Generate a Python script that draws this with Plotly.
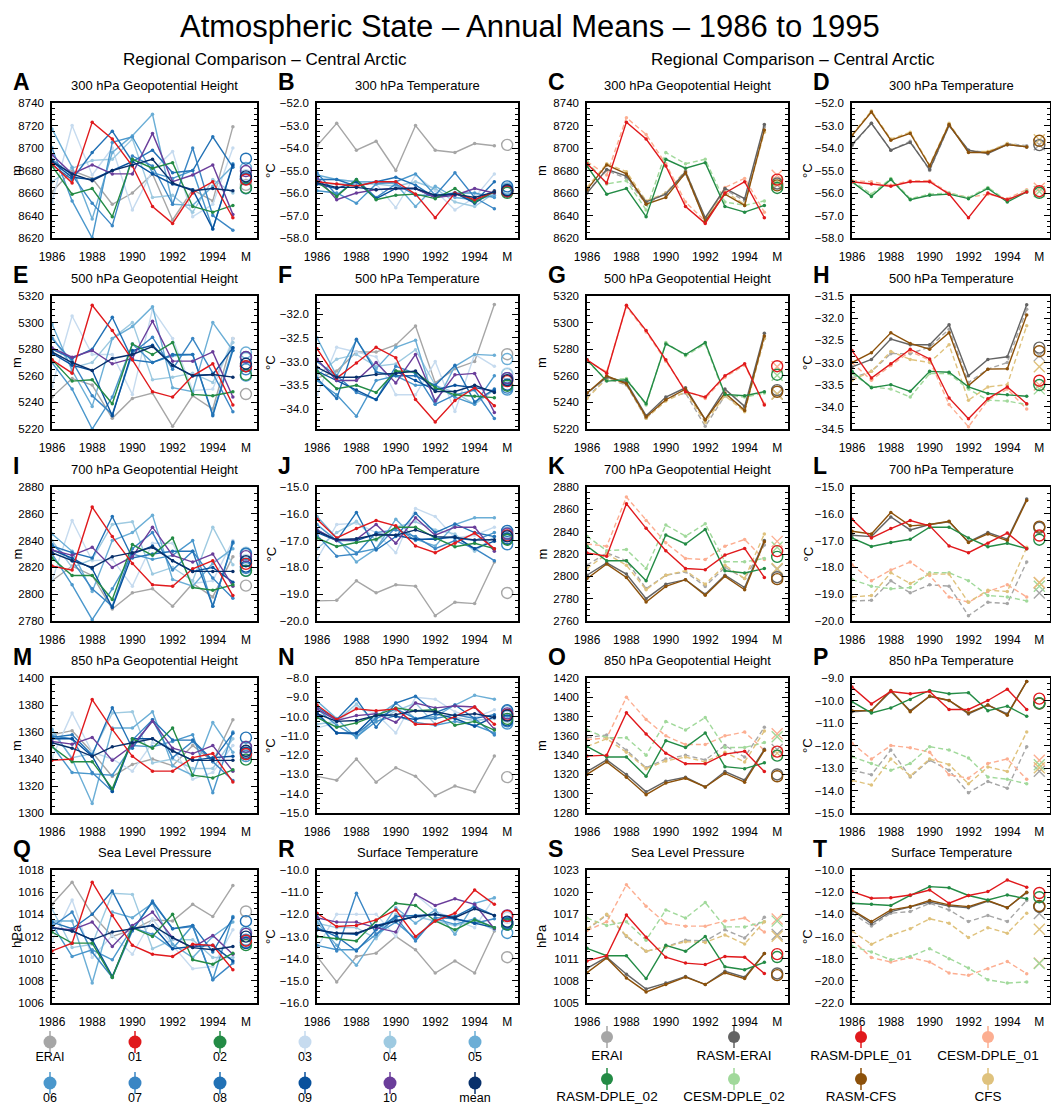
import numpy as np
import plotly.graph_objects as go

W, H = 1059, 1106
OFF = 8  # the page body margin shifts the figure by this many pixels
years = list(range(1986, 1996))
x_m = 1995.65

ens_names = ["ERAI", "01", "02", "03", "04", "05", "06", "07", "08", "09", "10", "mean"]
ens_colors = ["#a6a6a6", "#e0191c", "#238b45", "#c6dbef", "#9ecae1", "#6baed6",
              "#4a97cc", "#3a86c4", "#2171b5", "#08519c", "#6a3d9a", "#08306b"]
ens_order = [0, 3, 4, 5, 6, 7, 8, 9, 10, 2, 1, 11]

run_names = ["ERAI", "RASM-ERAI", "RASM-DPLE_01", "CESM-DPLE_01",
             "RASM-DPLE_02", "CESM-DPLE_02", "RASM-CFS", "CFS"]
run_colors = ["#a6a6a6", "#636363", "#e0191c", "#fcae91", "#238b45", "#a1d99b", "#8c510a", "#dfc27d"]
run_dash = ["dash", "solid", "solid", "dash", "solid", "dash", "solid", "dash"]
run_order = [0, 3, 5, 7, 1, 6, 4, 2]

# ---- ensemble panels: rows = ERAI, 01 .. 10, mean ----
gph300_ens = [
    [8661, 8680, 8673, 8650, 8660, 8677, 8636, 8663, 8653, 8719],
    [8686, 8669, 8723, 8708, 8684, 8648, 8633, 8660, 8670, 8638],
    [8684, 8659, 8664, 8639, 8690, 8682, 8687, 8648, 8643, 8649],
    [8652, 8720, 8676, 8700, 8645, 8680, 8697, 8639, 8650, 8700],
    [8670, 8682, 8689, 8690, 8708, 8656, 8658, 8643, 8672, 8660],
    [8717, 8683, 8637, 8696, 8711, 8730, 8650, 8649, 8666, 8684],
    [8700, 8653, 8620, 8705, 8710, 8678, 8673, 8680, 8628, 8686],
    [8690, 8676, 8651, 8631, 8693, 8684, 8650, 8700, 8640, 8627],
    [8685, 8672, 8696, 8715, 8688, 8698, 8678, 8680, 8710, 8683],
    [8688, 8674, 8672, 8680, 8688, 8677, 8668, 8663, 8628, 8685],
    [8694, 8677, 8685, 8677, 8677, 8713, 8670, 8676, 8685, 8641],
    [8688, 8677, 8671, 8680, 8685, 8690, 8669, 8662, 8664, 8662],
]
t300_ens = [
    [-53.9, -52.9, -54.1, -53.7, -55.0, -53.0, -54.1, -54.2, -53.8, -53.9],
    [-55.5, -55.6, -55.7, -55.5, -55.5, -56.05, -57.1, -56.0, -56.3, -55.95],
    [-55.5, -56.15, -55.4, -56.3, -56.1, -56.05, -56.25, -55.8, -56.4, -55.95],
    [-55.4, -55.4, -55.5, -55.6, -56.65, -55.2, -55.9, -56.75, -56.2, -55.15],
    [-55.6, -55.6, -55.6, -55.6, -55.7, -55.5, -55.8, -56.4, -56.6, -56.0],
    [-55.2, -55.4, -55.5, -55.5, -55.6, -56.6, -55.7, -56.2, -56.3, -56.1],
    [-55.9, -56.0, -56.45, -55.6, -55.5, -55.15, -56.1, -56.0, -56.0, -56.2],
    [-55.1, -56.1, -55.4, -56.2, -55.6, -56.1, -56.1, -55.1, -56.2, -56.7],
    [-55.4, -55.4, -55.7, -55.5, -55.3, -55.65, -56.2, -56.0, -56.4, -55.5],
    [-55.6, -55.8, -55.5, -56.25, -55.8, -55.8, -56.2, -56.0, -56.45, -55.9],
    [-55.3, -56.3, -56.0, -55.85, -55.8, -55.8, -56.2, -56.1, -55.8, -56.0],
    [-55.55, -55.75, -55.75, -55.85, -55.8, -55.8, -56.1, -56.05, -56.2, -55.95],
]
gph500_ens = [
    [5244, 5258, 5253, 5228, 5243, 5247, 5222, 5245, 5235, 5288],
    [5272, 5262, 5313, 5294, 5272, 5248, 5244, 5260, 5269, 5238],
    [5272, 5256, 5257, 5239, 5284, 5276, 5285, 5246, 5245, 5248],
    [5252, 5305, 5276, 5276, 5246, 5310, 5288, 5249, 5250, 5288],
    [5290, 5266, 5270, 5288, 5300, 5257, 5259, 5262, 5255, 5285],
    [5299, 5264, 5237, 5288, 5297, 5312, 5251, 5248, 5300, 5279],
    [5270, 5250, 5220, 5244, 5284, 5270, 5275, 5276, 5231, 5281],
    [5288, 5271, 5245, 5231, 5277, 5289, 5265, 5288, 5262, 5233],
    [5280, 5273, 5280, 5304, 5272, 5270, 5276, 5276, 5230, 5279],
    [5277, 5268, 5264, 5230, 5279, 5283, 5268, 5260, 5261, 5281],
    [5281, 5274, 5279, 5269, 5273, 5301, 5271, 5271, 5278, 5244],
    [5278, 5270, 5264, 5273, 5276, 5282, 5268, 5260, 5261, 5259],
]
t500_ens = [
    [-33.35, -33.2, -32.8, -32.8, -32.65, -32.25, -33.45, -33.15, -33.0, -31.8],
    [-32.73, -33.35, -33.03, -32.7, -32.92, -33.8, -34.27, -33.82, -33.55, -33.93],
    [-33.2, -33.57, -33.5, -33.65, -33.2, -33.22, -33.55, -33.7, -33.73, -33.76],
    [-33.7, -32.7, -32.8, -32.9, -33.7, -33.7, -33.0, -34.05, -32.85, -33.1],
    [-33.3, -32.95, -32.85, -33.1, -33.05, -32.75, -33.5, -33.65, -33.9, -33.6],
    [-32.5, -33.3, -32.55, -33.15, -32.7, -32.55, -33.9, -33.1, -32.85, -32.87],
    [-33.4, -33.7, -34.15, -33.4, -33.3, -33.5, -33.5, -33.75, -33.9, -33.3],
    [-33.0, -33.3, -33.65, -33.8, -33.1, -33.25, -33.9, -33.7, -33.6, -34.2],
    [-33.35, -33.78, -32.53, -33.22, -33.3, -33.3, -33.5, -33.08, -33.85, -33.58],
    [-33.2, -33.4, -33.6, -33.8, -33.2, -33.4, -33.6, -33.5, -33.55, -33.62],
    [-32.95, -33.4, -33.4, -33.02, -33.45, -32.85, -33.83, -33.28, -33.25, -34.07],
    [-33.12, -33.33, -33.33, -33.27, -33.25, -33.2, -33.63, -33.63, -33.5, -33.65],
]
gph700_ens = [
    [2810, 2821, 2814, 2789, 2801, 2804, 2791, 2808, 2798, 2828],
    [2821, 2818, 2865, 2843, 2823, 2807, 2806, 2819, 2825, 2799],
    [2827, 2814, 2814, 2796, 2837, 2829, 2842, 2805, 2803, 2807],
    [2810, 2855, 2825, 2826, 2806, 2838, 2838, 2808, 2810, 2840],
    [2840, 2820, 2826, 2852, 2854, 2815, 2820, 2810, 2850, 2822],
    [2845, 2832, 2802, 2840, 2846, 2859, 2811, 2806, 2823, 2834],
    [2830, 2807, 2781, 2804, 2830, 2826, 2829, 2840, 2791, 2838],
    [2837, 2825, 2804, 2791, 2834, 2846, 2818, 2832, 2812, 2797],
    [2836, 2831, 2827, 2858, 2827, 2830, 2832, 2832, 2791, 2839],
    [2833, 2827, 2819, 2790, 2830, 2836, 2825, 2817, 2820, 2809],
    [2833, 2829, 2835, 2820, 2828, 2850, 2829, 2824, 2830, 2806],
    [2831, 2825, 2820, 2828, 2831, 2835, 2825, 2817, 2817, 2817],
]
t700_ens = [
    [-19.25, -19.23, -18.5, -18.95, -18.65, -18.7, -19.8, -19.3, -19.35, -17.8],
    [-16.2, -16.9, -16.55, -16.25, -16.45, -17.2, -17.45, -17.1, -16.72, -17.3],
    [-16.9, -17.22, -17.07, -16.95, -16.5, -16.5, -16.9, -17.23, -17.1, -17.3],
    [-17.7, -16.4, -16.35, -16.7, -17.45, -15.8, -16.1, -16.9, -16.8, -16.5],
    [-17.3, -16.7, -16.28, -17.0, -16.5, -16.3, -16.6, -16.75, -17.4, -16.85],
    [-16.1, -16.9, -17.8, -17.3, -16.2, -16.95, -17.2, -16.4, -16.15, -16.15],
    [-16.4, -17.0, -17.45, -17.3, -16.5, -17.0, -16.9, -16.9, -17.0, -16.7],
    [-16.8, -17.58, -17.5, -16.7, -16.6, -16.85, -17.3, -17.0, -17.3, -17.75],
    [-16.6, -17.0, -15.95, -17.35, -16.85, -15.98, -16.7, -16.38, -16.7, -16.85],
    [-16.7, -17.0, -17.0, -16.75, -16.8, -16.95, -16.95, -16.85, -17.3, -17.02],
    [-16.6, -17.0, -16.95, -16.4, -17.1, -16.15, -16.8, -16.5, -16.5, -17.4],
    [-16.65, -16.97, -16.93, -16.78, -16.8, -16.6, -16.85, -16.88, -16.98, -16.97],
]
gph850_ens = [
    [1358, 1361, 1345, 1327, 1336, 1340, 1335, 1350, 1338, 1369],
    [1339, 1340, 1384, 1362, 1342, 1331, 1331, 1341, 1344, 1323],
    [1349, 1338, 1338, 1318, 1355, 1348, 1363, 1328, 1326, 1332],
    [1341, 1374, 1345, 1340, 1331, 1352, 1348, 1325, 1330, 1350],
    [1360, 1341, 1344, 1374, 1375, 1337, 1340, 1333, 1333, 1355],
    [1362, 1340, 1307, 1363, 1363, 1375, 1335, 1328, 1367, 1345],
    [1350, 1330, 1329, 1328, 1350, 1349, 1353, 1358, 1315, 1360],
    [1357, 1355, 1330, 1316, 1354, 1369, 1341, 1353, 1338, 1324],
    [1356, 1358, 1343, 1378, 1348, 1369, 1354, 1354, 1339, 1359],
    [1355, 1355, 1342, 1316, 1355, 1355, 1346, 1339, 1341, 1342],
    [1353, 1351, 1356, 1339, 1350, 1368, 1348, 1344, 1350, 1331],
    [1352, 1348, 1342, 1349, 1352, 1355, 1346, 1339, 1339, 1339],
]
t850_ens = [
    [-13.1, -13.3, -12.2, -13.4, -12.65, -13.1, -14.1, -13.6, -13.9, -12.05],
    [-9.4, -10.15, -9.6, -9.7, -9.6, -10.4, -10.4, -10.0, -9.5, -10.4],
    [-10.05, -10.55, -10.33, -9.95, -9.55, -9.7, -9.65, -10.45, -10.25, -10.7],
    [-10.6, -10.3, -9.5, -9.85, -10.85, -9.0, -9.1, -9.75, -10.05, -9.65],
    [-10.4, -10.25, -9.35, -10.3, -9.7, -9.3, -10.4, -10.05, -10.2, -10.1],
    [-9.2, -10.1, -11.1, -10.0, -9.3, -10.1, -10.0, -9.4, -8.9, -9.1],
    [-9.6, -10.45, -11.05, -10.25, -9.95, -10.3, -10.45, -10.25, -10.45, -10.85],
    [-9.9, -10.85, -10.9, -10.1, -9.6, -10.1, -10.1, -9.9, -10.1, -10.95],
    [-9.5, -10.15, -9.1, -10.55, -9.3, -8.95, -9.8, -9.4, -10.1, -9.9],
    [-9.8, -10.85, -10.85, -9.85, -10.0, -10.15, -9.85, -10.1, -10.5, -10.0],
    [-9.6, -10.2, -9.95, -9.85, -10.3, -9.3, -9.55, -9.45, -9.5, -10.65],
    [-9.85, -10.25, -10.2, -9.95, -9.9, -9.7, -9.75, -9.95, -9.85, -10.05],
]
slp_ens = [
    [1014.9, 1016.9, 1014.0, 1012.0, 1012.6, 1013.5, 1013.4, 1014.9, 1013.8, 1016.6],
    [1010.7, 1011.4, 1016.9, 1013.9, 1011.2, 1010.4, 1010.2, 1011.3, 1011.2, 1009.0],
    [1012.4, 1011.4, 1011.4, 1008.3, 1012.8, 1012.0, 1014.0, 1009.9, 1009.5, 1010.5],
    [1011.6, 1015.3, 1010.1, 1012.1, 1010.4, 1013.6, 1011.2, 1009.1, 1009.3, 1012.6],
    [1014.5, 1011.0, 1011.3, 1015.9, 1015.8, 1010.9, 1011.7, 1011.7, 1010.1, 1010.1],
    [1013.4, 1013.4, 1007.8, 1014.2, 1013.7, 1015.0, 1011.3, 1010.1, 1012.0, 1013.3],
    [1013.1, 1010.2, 1010.8, 1009.9, 1012.8, 1012.2, 1010.9, 1013.0, 1008.1, 1013.8],
    [1012.9, 1014.2, 1010.6, 1008.3, 1012.5, 1015.2, 1012.7, 1012.9, 1008.1, 1009.6],
    [1013.3, 1012.7, 1014.0, 1016.1, 1012.6, 1015.1, 1012.7, 1013.0, 1010.6, 1013.7],
    [1012.8, 1012.5, 1011.7, 1008.4, 1012.7, 1013.0, 1010.9, 1011.1, 1011.2, 1009.8],
    [1012.8, 1012.6, 1013.3, 1011.1, 1013.0, 1014.2, 1011.9, 1011.0, 1012.1, 1010.4],
    [1012.8, 1012.5, 1011.7, 1012.4, 1012.7, 1013.0, 1011.9, 1011.0, 1010.8, 1011.1],
]
tsfc_ens = [
    [-13.9, -15.05, -13.9, -13.75, -13.0, -13.6, -14.65, -14.1, -14.65, -12.75],
    [-11.95, -12.55, -12.5, -12.25, -11.8, -13.0, -12.3, -11.95, -10.9, -11.55],
    [-13.0, -13.1, -13.2, -12.3, -11.5, -11.6, -12.3, -12.7, -12.25, -12.6],
    [-13.5, -12.0, -12.0, -12.0, -13.0, -11.1, -11.85, -12.25, -12.6, -11.25],
    [-12.4, -12.6, -12.6, -13.1, -12.0, -12.1, -12.3, -12.5, -12.3, -12.7],
    [-12.35, -13.4, -14.3, -13.0, -11.7, -12.4, -11.8, -12.9, -11.5, -11.25],
    [-13.4, -13.6, -13.6, -12.9, -12.35, -13.1, -12.2, -12.45, -12.2, -12.6],
    [-12.1, -13.65, -11.05, -12.9, -12.15, -13.2, -12.15, -12.2, -12.4, -12.2],
    [-12.6, -13.0, -13.65, -12.7, -12.1, -12.05, -12.0, -12.1, -11.65, -12.05],
    [-12.7, -12.85, -12.9, -12.5, -12.3, -12.1, -12.0, -12.2, -12.4, -12.6],
    [-12.15, -12.35, -12.35, -12.6, -12.8, -11.1, -11.6, -11.3, -11.55, -12.65],
    [-12.7, -12.85, -12.85, -12.55, -12.3, -12.1, -12.0, -12.15, -11.75, -12.05],
]

# ---- comparison panels: rows = RASM-ERAI, CESM-DPLE_01, CESM-DPLE_02, RASM-CFS, CFS
# (ERAI, RASM-DPLE_01 and RASM-DPLE_02 are the ERAI, 01 and 02 rows above)
gph300_runs = [
    [8660, 8681, 8675, 8652, 8659, 8679, 8638, 8664, 8655, 8721],
    [8688, 8676, 8727, 8712, 8686, 8652, 8635, 8665, 8673, 8643],
    [8688, 8668, 8671, 8645, 8696, 8686, 8690, 8652, 8649, 8653],
    [8663, 8685, 8677, 8650, 8656, 8678, 8635, 8659, 8649, 8716],
    [8665, 8686, 8679, 8653, 8660, 8680, 8637, 8661, 8650, 8714],
]
t300_runs = [
    [-53.85, -52.9, -54.1, -53.75, -54.95, -53.0, -54.1, -54.25, -53.85, -53.95],
    [-55.45, -55.5, -55.65, -55.45, -55.45, -56.0, -56.2, -56.05, -56.25, -55.85],
    [-55.45, -56.05, -55.35, -56.25, -56.05, -56.0, -56.2, -55.75, -56.35, -55.9],
    [-53.45, -52.4, -53.65, -53.35, -54.8, -52.95, -54.2, -54.2, -53.85, -53.95],
    [-53.4, -52.35, -53.6, -53.3, -54.75, -52.9, -54.15, -54.15, -53.8, -53.95],
]
gph500_runs = [
    [5247, 5259, 5255, 5230, 5244, 5251, 5227, 5250, 5237, 5292],
    [5271, 5263, 5312, 5293, 5271, 5249, 5243, 5259, 5268, 5239],
    [5271, 5257, 5258, 5238, 5285, 5275, 5284, 5245, 5244, 5247],
    [5247, 5260, 5254, 5229, 5242, 5250, 5227, 5247, 5234, 5290],
    [5243, 5258, 5254, 5228, 5241, 5248, 5225, 5245, 5233, 5288],
]
t500_runs = [
    [-33.1, -32.93, -32.47, -32.6, -32.6, -32.15, -33.3, -32.93, -32.87, -31.7],
    [-33.0, -33.4, -33.07, -32.75, -32.95, -33.95, -34.45, -33.85, -33.6, -34.05],
    [-33.25, -33.55, -33.6, -33.78, -33.25, -33.25, -33.6, -33.85, -33.87, -33.95],
    [-33.0, -32.78, -32.33, -32.57, -32.7, -32.33, -33.52, -33.15, -33.14, -31.93],
    [-33.4, -33.2, -32.75, -32.93, -33.0, -32.6, -33.85, -33.55, -33.5, -32.17],
]
gph700_runs = [
    [2801, 2812, 2802, 2780, 2793, 2797, 2784, 2801, 2790, 2832],
    [2829, 2827, 2871, 2850, 2830, 2816, 2815, 2827, 2833, 2815],
    [2836, 2823, 2824, 2807, 2846, 2836, 2847, 2813, 2813, 2816],
    [2798, 2811, 2799, 2777, 2791, 2797, 2783, 2800, 2788, 2831],
    [2807, 2820, 2810, 2788, 2801, 2805, 2793, 2810, 2798, 2838],
]
t700_runs = [
    [-16.8, -16.85, -16.12, -16.6, -16.4, -16.3, -17.05, -16.7, -16.95, -15.45],
    [-17.9, -18.5, -18.1, -17.8, -18.3, -19.1, -19.3, -18.9, -18.65, -19.1],
    [-18.45, -18.7, -18.8, -18.75, -18.2, -18.2, -18.5, -19.05, -19.1, -19.25],
    [-16.65, -16.75, -15.95, -16.45, -16.4, -16.28, -17.07, -16.75, -17.0, -15.5],
    [-19.1, -19.05, -18.2, -18.6, -18.25, -18.25, -19.3, -18.85, -18.9, -17.25],
]
gph850_runs = [
    [1323, 1335, 1320, 1302, 1313, 1317, 1307, 1323, 1314, 1346],
    [1356, 1358, 1400, 1377, 1360, 1351, 1351, 1360, 1364, 1345],
    [1366, 1358, 1358, 1340, 1375, 1366, 1379, 1348, 1348, 1353],
    [1320, 1333, 1317, 1299, 1311, 1316, 1307, 1321, 1312, 1345],
    [1349, 1357, 1343, 1326, 1334, 1338, 1333, 1343, 1333, 1365],
]
t850_runs = [
    [-10.5, -10.45, -9.6, -10.45, -9.82, -10.0, -10.6, -10.2, -10.6, -9.15],
    [-11.9, -12.6, -12.0, -12.1, -12.3, -13.3, -13.45, -12.8, -12.6, -13.5],
    [-12.5, -12.8, -13.1, -12.8, -12.05, -12.2, -12.55, -13.4, -13.5, -13.7],
    [-10.45, -10.45, -9.55, -10.5, -9.8, -10.0, -10.55, -10.2, -10.65, -9.15],
    [-13.55, -13.75, -12.6, -13.35, -12.6, -12.85, -13.7, -12.95, -13.15, -11.4],
]
slp_runs = [
    [1009.7, 1011.2, 1008.9, 1006.9, 1007.7, 1008.6, 1007.5, 1009.3, 1008.5, 1011.7],
    [1014.8, 1016.0, 1021.0, 1018.1, 1015.8, 1015.4, 1015.4, 1016.1, 1016.5, 1014.6],
    [1016.5, 1015.5, 1016.0, 1013.5, 1017.6, 1016.5, 1018.6, 1015.3, 1015.3, 1016.0],
    [1009.1, 1011.1, 1008.4, 1006.5, 1007.5, 1008.5, 1007.5, 1009.1, 1008.3, 1011.7],
    [1015.0, 1017.0, 1014.1, 1012.0, 1012.6, 1013.3, 1013.2, 1014.2, 1013.0, 1016.0],
]
tsfc_runs = [
    [-13.6, -14.85, -13.75, -13.35, -12.9, -13.25, -13.4, -12.8, -13.4, -12.05],
    [-16.3, -17.9, -18.3, -17.9, -18.3, -19.3, -19.5, -18.9, -18.25, -19.35],
    [-16.9, -17.4, -18.1, -17.8, -17.1, -18.0, -18.85, -19.9, -20.2, -20.1],
    [-13.6, -14.65, -13.6, -13.3, -12.75, -13.15, -13.3, -12.75, -13.4, -12.0],
    [-15.5, -16.7, -15.9, -15.3, -14.4, -14.8, -16.1, -15.2, -15.7, -13.9],
]

# (title, unit, ensemble data, run data, left y-range, left dtick, right y-range, right dtick, format)
rows = [
    ("300 hPa Geopotential Height", "m", gph300_ens, gph300_runs, [8620, 8740], 20, [8620, 8740], 20, "d"),
    ("300 hPa Temperature", "°C", t300_ens, t300_runs, [-58, -52], 1, [-58, -52], 1, ".1f"),
    ("500 hPa Geopotential Height", "m", gph500_ens, gph500_runs, [5220, 5320], 20, [5220, 5320], 20, "d"),
    ("500 hPa Temperature", "°C", t500_ens, t500_runs, [-34.42, -31.62], 0.5, [-34.5, -31.5], 0.5, ".1f"),
    ("700 hPa Geopotential Height", "m", gph700_ens, gph700_runs, [2780, 2880], 20, [2760, 2880], 20, "d"),
    ("700 hPa Temperature", "°C", t700_ens, t700_runs, [-20, -15], 1, [-20, -15], 1, ".1f"),
    ("850 hPa Geopotential Height", "m", gph850_ens, gph850_runs, [1300, 1400], 20, [1280, 1420], 20, "d"),
    ("850 hPa Temperature", "°C", t850_ens, t850_runs, [-15, -8], 1, [-15, -9], 1, ".1f"),
    ("Sea Level Pressure", "hPa", slp_ens, slp_runs, [1006, 1018], 2, [1005, 1023], 3, "d"),
    ("Surface Temperature", "°C", tsfc_ens, tsfc_runs, [-16, -10], 1, [-22, -10], 2, ".1f"),
]

# panel boxes in screen pixels
col_px = [(52, 257), (317, 518), (587, 788), (852, 1050)]
row_px = [(103, 238), (296, 429), (487, 621), (678, 813), (870, 1003)]
unit_x = [8, 262, 533, 799]  # left edge of the rotated unit label
letters = "ABCDEFGHIJKLMNOPQRST"
FONT = "Liberation Sans, Arial, Helvetica, sans-serif"


def px(x):
    return (x - OFF) / W


def py(y):
    return 1 - (y - OFF) / H


fig = go.Figure()
layout = {}
annotations = []

for var_idx, spec in enumerate(rows):
    title, unit, ens, runs, yr_l, dt_l, yr_r, dt_r, fmt = spec
    for right in (False, True):
        r = var_idx // 2
        c = (var_idx % 2) + (2 if right else 0)
        i = r * 4 + c
        ax = "" if i == 0 else str(i + 1)
        xa, ya = "x" + ax, "y" + ax

        if not right:
            series = ens
            order, names, colors = ens_order, ens_names, ens_colors
            dashes = ["solid"] * 12
            msyms = ["circle-open"] * 12
            yr, dt = yr_l, dt_l
        else:
            series = [ens[0], runs[0], ens[1], runs[1], ens[2], runs[2], runs[3], runs[4]]
            order, names, colors = run_order, run_names, run_colors
            dashes = ["5px,3px" if d == "dash" else d for d in run_dash]
            msyms = ["x-thin-open" if d == "dash" else "circle-open" for d in run_dash]
            yr, dt = yr_r, dt_r

        for j in order:
            fig.add_trace(go.Scatter(
                x=years, y=series[j], mode="lines+markers", name=names[j],
                line=dict(color=colors[j], width=1.4, dash=dashes[j]),
                marker=dict(size=3.5, color=colors[j]),
                xaxis=xa, yaxis=ya, showlegend=False))
        for j in order:
            fig.add_trace(go.Scatter(
                x=[x_m], y=[float(np.mean(series[j]))], mode="markers", name=names[j] + " mean",
                marker=dict(symbol=msyms[j], size=11, color=colors[j],
                            line=dict(width=1.4, color=colors[j])),
                xaxis=xa, yaxis=ya, showlegend=False, cliponaxis=False))

        x0, x1 = col_px[c]
        y0, y1 = row_px[r]
        minor_dt = dt / 3 if dt == 3 else dt / 4
        layout["xaxis" + ax] = dict(
            domain=[px(x0), px(x1)], anchor=ya, range=[1986, 1996.2], automargin=False,
            tickvals=[1986, 1988, 1990, 1992, 1994, x_m],
            ticktext=["1986", "1988", "1990", "1992", "1994", "M"],
            ticks="", ticklabelstandoff=7,
            showline=True, mirror=True, linecolor="black", linewidth=1.5,
            showgrid=False, zeroline=False, tickfont=dict(size=12, color="black"))
        layout["yaxis" + ax] = dict(
            domain=[py(y1), py(y0)], anchor=xa, range=yr, automargin=False,
            tick0=0, dtick=dt, tickformat=fmt, ticklabelstandoff=4,
            ticks="inside", ticklen=6, tickwidth=1.2, tickcolor="black",
            minor=dict(ticks="inside", ticklen=3, tickwidth=1, tickcolor="black",
                       tick0=0, dtick=minor_dt),
            showline=True, mirror="ticks", linecolor="black", linewidth=1.5,
            showgrid=False, zeroline=False, tickfont=dict(size=11.5, color="black"))

        annotations.append(dict(
            text=unit, x=px(unit_x[c]), y=py((y0 + y1) / 2), textangle=-90,
            xref="paper", yref="paper", xanchor="left", yanchor="middle",
            borderpad=0, showarrow=False, font=dict(size=13, color="black")))
        annotations.append(dict(
            text="<b>" + letters[i] + "</b>", x=px(x0 - 41), y=py(y0 - 21),
            xref="paper", yref="paper", xanchor="left", yanchor="middle",
            showarrow=False, font=dict(size=23, color="black")))
        annotations.append(dict(
            text=title, x=px((x0 + x1) / 2), y=py(y0 - 18),
            xref="paper", yref="paper", xanchor="center", yanchor="middle",
            showarrow=False, font=dict(size=13, color="black")))

annotations.append(dict(
    text="Atmospheric State – Annual Means – 1986 to 1995", x=px(530), y=py(27),
    xref="paper", yref="paper", xanchor="center", yanchor="middle",
    showarrow=False, font=dict(size=31, color="black")))
for cx in (265, 793):
    annotations.append(dict(
        text="Regional Comparison – Central Arctic", x=px(cx), y=py(59),
        xref="paper", yref="paper", xanchor="center", yanchor="middle",
        showarrow=False, font=dict(size=17, color="black")))

# ---- custom legends drawn in an axis whose units are screen pixels ----
leg_top = 1022
ax_l = "21"
layout["xaxis" + ax_l] = dict(domain=[0, 1], range=[OFF, W + OFF], visible=False,
                              anchor="y" + ax_l, automargin=False)
layout["yaxis" + ax_l] = dict(domain=[0, py(leg_top)], range=[H + OFF, leg_top], visible=False,
                              anchor="x" + ax_l, automargin=False)


def legend_item(cx, cy, ty, color, label, size, fsize):
    fig.add_trace(go.Scatter(x=[cx, cx], y=[cy - 11, cy + 11], mode="lines",
                             line=dict(color=color, width=1.5),
                             xaxis="x" + ax_l, yaxis="y" + ax_l, showlegend=False, hoverinfo="skip"))
    fig.add_trace(go.Scatter(x=[cx], y=[cy], mode="markers",
                             marker=dict(size=size, color=color),
                             xaxis="x" + ax_l, yaxis="y" + ax_l, showlegend=False))
    fig.add_trace(go.Scatter(x=[cx], y=[ty], mode="text", text=[label],
                             textposition="middle center",
                             textfont=dict(size=fsize, color="black"),
                             xaxis="x" + ax_l, yaxis="y" + ax_l, showlegend=False))


for k, name in enumerate(ens_names):
    rr, cc = divmod(k, 6)
    legend_item(50 + 85 * cc, 1042 + 41 * rr, 1058 + 41 * rr, ens_colors[k], name, 13, 12.5)

for k, name in enumerate(run_names):
    rr, cc = divmod(k, 4)
    legend_item(607 + 127 * cc, 1037 + 42 * rr, 1057 + 41 * rr, run_colors[k], name, 12, 13.5)

fig.update_layout(**layout)
fig.update_layout(
    width=W, height=H, margin=dict(l=0, r=0, t=0, b=0, autoexpand=False),
    paper_bgcolor="white", plot_bgcolor="rgba(0,0,0,0)",
    font=dict(family=FONT, color="black"),
    annotations=annotations, showlegend=False)

fig.write_html("out.html")
